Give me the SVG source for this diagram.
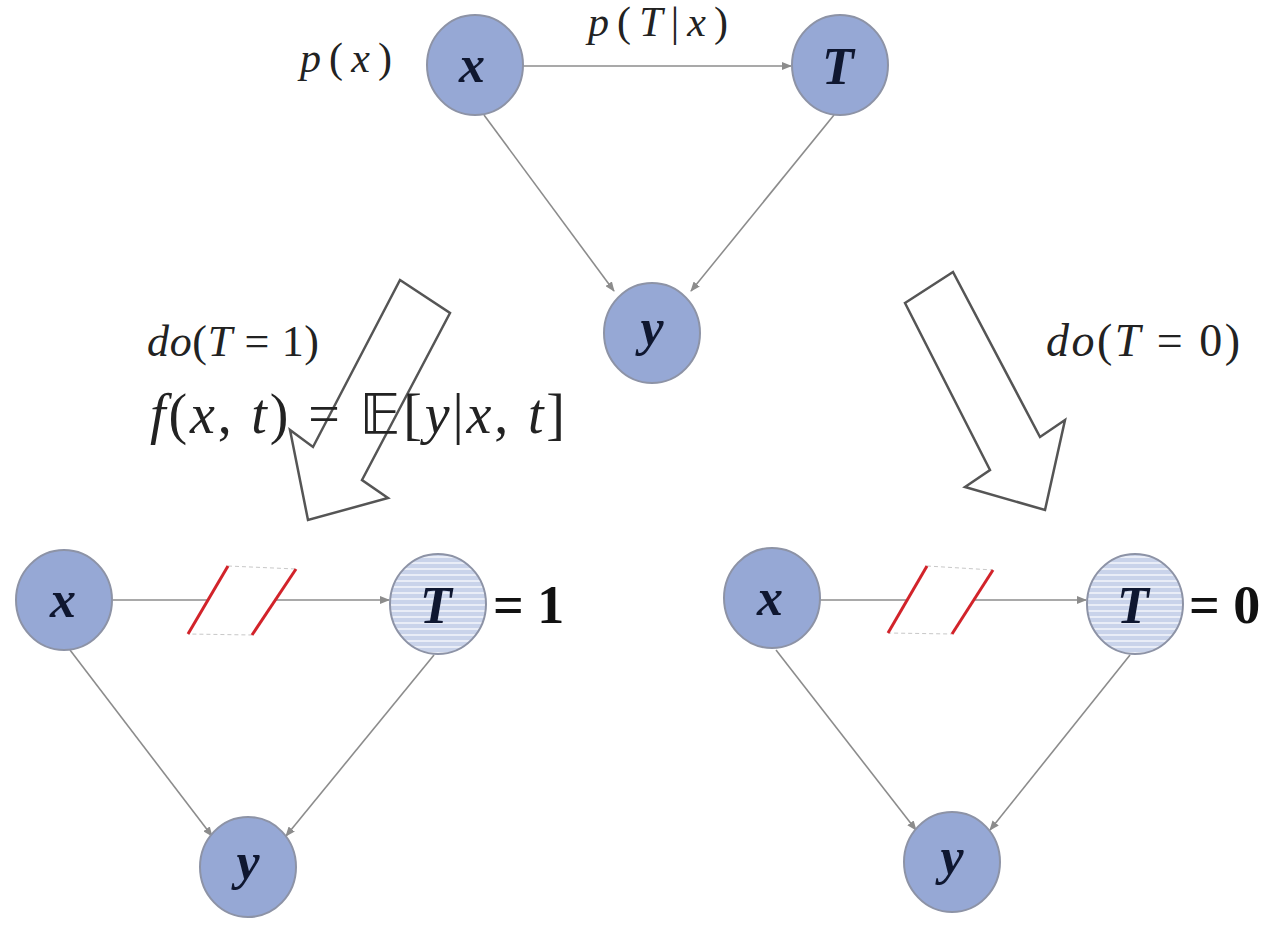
<svg xmlns="http://www.w3.org/2000/svg" width="1280" height="931" viewBox="0 0 1280 931">
<defs>
<marker id="ah" markerWidth="10" markerHeight="8" refX="9" refY="4" orient="auto" markerUnits="userSpaceOnUse">
<path d="M0,0 L10,4 L0,8 Z" fill="#8c8c8c"/>
</marker>
<pattern id="stripes" width="8" height="6" patternUnits="userSpaceOnUse">
<rect width="8" height="6" fill="#c9d3ea"/>
<rect y="4" width="8" height="2" fill="#e9edf7"/>
</pattern>
</defs>
<style>
.node{fill:#96a8d5;stroke:#8d93a6;stroke-width:2}
.inode{fill:url(#stripes);stroke:#8d93a6;stroke-width:2}
.lbl{font-family:"Liberation Serif",serif;font-weight:bold;font-style:italic;font-size:52px;fill:#0f1730;text-anchor:middle}
.edge{stroke:#8c8c8c;stroke-width:1.6;fill:none;marker-end:url(#ah)}
.math{font-family:"Liberation Serif","DejaVu Serif",serif;fill:#222}
.i{font-style:italic}
.bb{font-family:"DejaVu Sans",sans-serif;font-style:normal}
.eq{font-family:"Liberation Serif",serif;font-weight:bold;font-size:54px;fill:#111}
.blk{fill:#fff;stroke:#555;stroke-width:2.5;stroke-linejoin:miter}
.cut{stroke:#d2232a;stroke-width:3}
.gap{fill:#fff;stroke:#c8c8c8;stroke-width:1;stroke-dasharray:4 3}
</style>
<rect width="1280" height="931" fill="#fff"/>

<g id="block-arrows">
<polygon class="blk" points="400,280 450,313 362,480 388,498 308,520 290,430 313,447"/>
<polygon class="blk" points="905,303 953,272 1040,437 1065,420 1045,510 965,487 990,470"/>
</g>

<g id="connectors">
<line class="edge" x1="523" y1="66" x2="791" y2="66"/>
<line class="edge" x1="484" y1="115" x2="614" y2="291"/>
<line class="edge" x1="834" y1="115" x2="691" y2="291"/>

<line class="edge" x1="113" y1="600" x2="389" y2="600"/>
<line class="edge" x1="70" y1="650" x2="212" y2="836"/>
<line class="edge" x1="434" y1="655" x2="286" y2="836"/>

<line class="edge" x1="820" y1="600" x2="1086" y2="600"/>
<line class="edge" x1="776" y1="650" x2="916" y2="830"/>
<line class="edge" x1="1130" y1="655" x2="990" y2="830"/>

<polygon class="gap" points="228,566 296,569 252,635 188,634"/>
<line class="cut" x1="188" y1="634" x2="228" y2="566"/>
<line class="cut" x1="252" y1="635" x2="296" y2="569"/>

<polygon class="gap" points="927,566 993,570 952,634 888,633"/>
<line class="cut" x1="888" y1="633" x2="927" y2="566"/>
<line class="cut" x1="952" y1="634" x2="993" y2="570"/>
</g>

<g id="top-x"><ellipse class="node" cx="475" cy="65" rx="48" ry="50"/><text class="lbl" x="472" y="82">x</text></g>
<g id="top-T"><ellipse class="node" cx="840" cy="65" rx="48" ry="50"/><text class="lbl" x="838" y="84">T</text></g>
<g id="top-y"><ellipse class="node" cx="652" cy="333" rx="48" ry="50"/><text class="lbl" x="652" y="345">y</text></g>

<g id="left-x"><ellipse class="node" cx="64" cy="600" rx="48" ry="50"/><text class="lbl" x="63" y="617">x</text></g>
<g id="left-T"><ellipse class="inode" cx="438" cy="604" rx="48" ry="50"/><text class="lbl" x="436" y="623">T</text></g>
<g id="left-y"><ellipse class="node" cx="248" cy="867" rx="48" ry="50"/><text class="lbl" x="248" y="879">y</text></g>

<g id="right-x"><ellipse class="node" cx="772" cy="598" rx="48" ry="50"/><text class="lbl" x="770" y="615">x</text></g>
<g id="right-T"><ellipse class="inode" cx="1135" cy="604" rx="48" ry="50"/><text class="lbl" x="1133" y="623">T</text></g>
<g id="right-y"><ellipse class="node" cx="952" cy="862" rx="48" ry="50"/><text class="lbl" x="952" y="874">y</text></g>

<g id="labels">
<text class="math" x="300" y="72" font-size="42" textLength="92" lengthAdjust="spacing"><tspan class="i">p</tspan>(<tspan class="i">x</tspan>)</text>
<text class="math" x="588" y="36" font-size="42" textLength="140" lengthAdjust="spacing"><tspan class="i">p</tspan>(<tspan class="i">T</tspan>|<tspan class="i">x</tspan>)</text>
<text class="math" x="147" y="356" font-size="44" textLength="172" lengthAdjust="spacing"><tspan class="i">do</tspan>(<tspan class="i">T</tspan> = 1)</text>
<text class="math" x="150" y="433" font-size="56" textLength="415" lengthAdjust="spacing"><tspan class="i">f</tspan>(<tspan class="i">x</tspan>, <tspan class="i">t</tspan>) = <tspan class="bb">𝔼</tspan>[<tspan class="i">y</tspan>|<tspan class="i">x</tspan>, <tspan class="i">t</tspan>]</text>
<text class="math" x="1046" y="356" font-size="46" textLength="194" lengthAdjust="spacing"><tspan class="i">do</tspan>(<tspan class="i">T</tspan> = 0)</text>
<text class="eq" x="493" y="623">= 1</text>
<text class="eq" x="1189" y="623">= 0</text>
</g>
</svg>
